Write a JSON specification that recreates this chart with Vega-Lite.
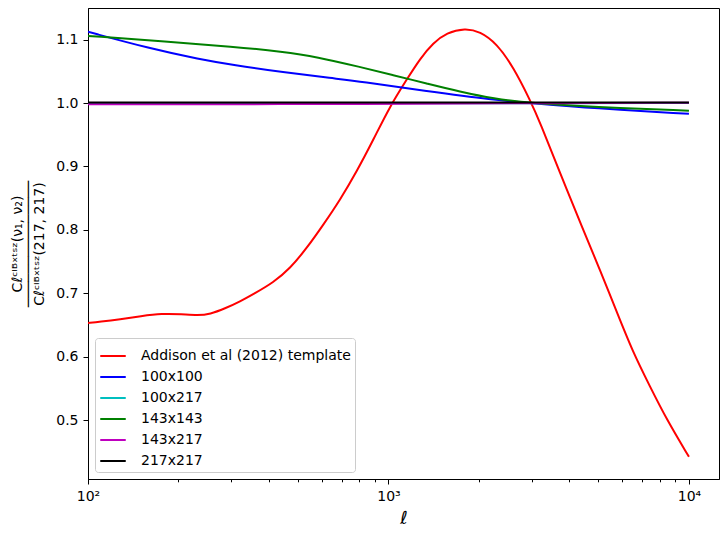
{
  "$schema": "https://vega.github.io/schema/vega-lite/v6.json",
  "autosize": "none",
  "width": 631,
  "height": 471,
  "padding": {"left": 88, "top": 8, "right": 8, "bottom": 54},
  "data": {
    "values": [
      {"series": "Addison et al (2012) template", "ell": 100, "ratio": 0.653},
      {"series": "Addison et al (2012) template", "ell": 109.6, "ratio": 0.655},
      {"series": "Addison et al (2012) template", "ell": 127.8, "ratio": 0.659},
      {"series": "Addison et al (2012) template", "ell": 150, "ratio": 0.664},
      {"series": "Addison et al (2012) template", "ell": 176.3, "ratio": 0.668},
      {"series": "Addison et al (2012) template", "ell": 205, "ratio": 0.667},
      {"series": "Addison et al (2012) template", "ell": 232, "ratio": 0.665},
      {"series": "Addison et al (2012) template", "ell": 255, "ratio": 0.667},
      {"series": "Addison et al (2012) template", "ell": 285.7, "ratio": 0.676},
      {"series": "Addison et al (2012) template", "ell": 320.5, "ratio": 0.687},
      {"series": "Addison et al (2012) template", "ell": 359, "ratio": 0.700},
      {"series": "Addison et al (2012) template", "ell": 413.7, "ratio": 0.717},
      {"series": "Addison et al (2012) template", "ell": 470.1, "ratio": 0.739},
      {"series": "Addison et al (2012) template", "ell": 534.4, "ratio": 0.771},
      {"series": "Addison et al (2012) template", "ell": 606.7, "ratio": 0.808},
      {"series": "Addison et al (2012) template", "ell": 689.5, "ratio": 0.847},
      {"series": "Addison et al (2012) template", "ell": 783.9, "ratio": 0.892},
      {"series": "Addison et al (2012) template", "ell": 890.3, "ratio": 0.942},
      {"series": "Addison et al (2012) template", "ell": 1011.6, "ratio": 0.995},
      {"series": "Addison et al (2012) template", "ell": 1149.8, "ratio": 1.037},
      {"series": "Addison et al (2012) template", "ell": 1273, "ratio": 1.070},
      {"series": "Addison et al (2012) template", "ell": 1410, "ratio": 1.095},
      {"series": "Addison et al (2012) template", "ell": 1562, "ratio": 1.111},
      {"series": "Addison et al (2012) template", "ell": 1797, "ratio": 1.118},
      {"series": "Addison et al (2012) template", "ell": 2016, "ratio": 1.113},
      {"series": "Addison et al (2012) template", "ell": 2292, "ratio": 1.094},
      {"series": "Addison et al (2012) template", "ell": 2602, "ratio": 1.057},
      {"series": "Addison et al (2012) template", "ell": 2958, "ratio": 1.005},
      {"series": "Addison et al (2012) template", "ell": 3193, "ratio": 0.970},
      {"series": "Addison et al (2012) template", "ell": 3721, "ratio": 0.890},
      {"series": "Addison et al (2012) template", "ell": 4449, "ratio": 0.800},
      {"series": "Addison et al (2012) template", "ell": 5056, "ratio": 0.737},
      {"series": "Addison et al (2012) template", "ell": 5746, "ratio": 0.671},
      {"series": "Addison et al (2012) template", "ell": 6510, "ratio": 0.607},
      {"series": "Addison et al (2012) template", "ell": 7418, "ratio": 0.553},
      {"series": "Addison et al (2012) template", "ell": 8450, "ratio": 0.500},
      {"series": "Addison et al (2012) template", "ell": 10000, "ratio": 0.442},

      {"series": "100x100", "ell": 100, "ratio": 1.1125},
      {"series": "100x100", "ell": 160.8, "ratio": 1.086},
      {"series": "100x100", "ell": 235.9, "ratio": 1.069},
      {"series": "100x100", "ell": 303.8, "ratio": 1.060},
      {"series": "100x100", "ell": 445.7, "ratio": 1.049},
      {"series": "100x100", "ell": 653.7, "ratio": 1.039},
      {"series": "100x100", "ell": 803.9, "ratio": 1.034},
      {"series": "100x100", "ell": 1340, "ratio": 1.019},
      {"series": "100x100", "ell": 2233, "ratio": 1.005},
      {"series": "100x100", "ell": 2996, "ratio": 1.000},
      {"series": "100x100", "ell": 4803, "ratio": 0.992},
      {"series": "100x100", "ell": 10000, "ratio": 0.983},

      {"series": "100x217", "ell": 100, "ratio": 0.9995},
      {"series": "100x217", "ell": 1000, "ratio": 0.9995},
      {"series": "100x217", "ell": 3000, "ratio": 1.000},
      {"series": "100x217", "ell": 10000, "ratio": 1.000},

      {"series": "143x143", "ell": 100, "ratio": 1.106},
      {"series": "143x143", "ell": 182.8, "ratio": 1.097},
      {"series": "143x143", "ell": 303.8, "ratio": 1.089},
      {"series": "143x143", "ell": 445.7, "ratio": 1.081},
      {"series": "143x143", "ell": 576.8, "ratio": 1.073},
      {"series": "143x143", "ell": 803.9, "ratio": 1.057},
      {"series": "143x143", "ell": 1037, "ratio": 1.044},
      {"series": "143x143", "ell": 1340, "ratio": 1.031},
      {"series": "143x143", "ell": 1729, "ratio": 1.018},
      {"series": "143x143", "ell": 2233, "ratio": 1.007},
      {"series": "143x143", "ell": 2996, "ratio": 1.000},
      {"series": "143x143", "ell": 4803, "ratio": 0.994},
      {"series": "143x143", "ell": 10000, "ratio": 0.988},

      {"series": "143x217", "ell": 100, "ratio": 0.998},
      {"series": "143x217", "ell": 1000, "ratio": 0.9985},
      {"series": "143x217", "ell": 3000, "ratio": 1.000},
      {"series": "143x217", "ell": 10000, "ratio": 1.0005},

      {"series": "217x217", "ell": 100, "ratio": 1.001},
      {"series": "217x217", "ell": 1000, "ratio": 1.001},
      {"series": "217x217", "ell": 10000, "ratio": 1.001}
    ]
  },
  "mark": {"type": "line", "strokeWidth": 2, "interpolate": "basis", "clip": true},
  "encoding": {
    "x": {
      "field": "ell",
      "type": "quantitative",
      "scale": {"type": "log", "domain": [100, 12590], "nice": false},
      "axis": {
        "title": "ℓ",
        "titleFontSize": 18,
        "titleFontStyle": "italic",
        "titleFontWeight": "normal",
        "titlePadding": 6,
        "values": [100, 200, 300, 400, 500, 600, 700, 800, 900, 1000, 2000, 3000, 4000, 5000, 6000, 7000, 8000, 9000, 10000],
        "labelExpr": "datum.value == 100 ? '10²' : datum.value == 1000 ? '10³' : datum.value == 10000 ? '10⁴' : ''",
        "labelOverlap": false,
        "labelFlush": false,
        "tickSize": {"condition": {"test": "datum.value == 100 || datum.value == 1000 || datum.value == 10000", "value": 5}, "value": 2.8}
      }
    },
    "y": {
      "field": "ratio",
      "type": "quantitative",
      "scale": {"domain": [0.407, 1.15], "nice": false, "zero": false},
      "axis": {
        "values": [0.5, 0.6, 0.7, 0.8, 0.9, 1.0, 1.1],
        "format": ".1f",
        "title": ["Cℓᶜᴵᴮˣᵗˢᶻ(ν₁, ν₂)", "───────────────", "Cℓᶜᴵᴮˣᵗˢᶻ(217, 217)"],
        "titleFontSize": 14,
        "titleFontWeight": "normal",
        "titleLineHeight": 11,
        "titlePadding": 9
      }
    },
    "color": {
      "field": "series",
      "type": "nominal",
      "sort": null,
      "scale": {
        "domain": ["Addison et al (2012) template", "100x100", "100x217", "143x143", "143x217", "217x217"],
        "range": ["#ff0000", "#0000ff", "#00bfbf", "#008000", "#bf00bf", "#000000"]
      },
      "legend": {
        "title": null,
        "orient": "bottom-left",
        "offset": 7,
        "symbolType": "stroke",
        "symbolSize": 650,
        "symbolStrokeWidth": 2,
        "labelOffset": 14,
        "labelLimit": 400,
        "rowPadding": 0,
        "padding": 4,
        "strokeColor": "#cccccc",
        "fillColor": "rgba(255,255,255,0.8)",
        "cornerRadius": 3
      }
    }
  },
  "config": {
    "font": "DejaVu Sans",
    "view": {"stroke": "black", "strokeWidth": 1},
    "axis": {
      "grid": false,
      "domainColor": "black",
      "tickColor": "black",
      "labelColor": "black",
      "titleColor": "black",
      "labelFontSize": 14,
      "labelPadding": 5,
      "tickSize": 5
    },
    "legend": {"labelFontSize": 14, "labelColor": "black"}
  }
}
